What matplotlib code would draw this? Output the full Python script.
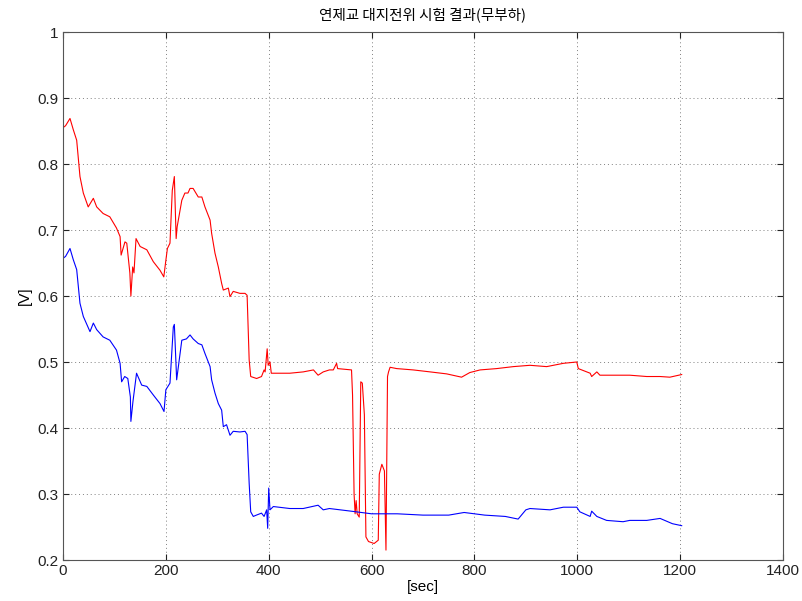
import matplotlib
matplotlib.use("Agg")
import matplotlib.pyplot as plt

# Red series (time [s], voltage [V])
red_t = [0, 5, 13.6, 20, 26.6, 33, 39.5, 49, 59, 65.5, 78, 91, 104, 111, 113, 120.5, 124,
         130, 132, 135.5, 138, 142, 150, 163, 175.6, 188.6, 196, 200, 203, 208, 212.5, 216.5,
         220, 222, 231, 237, 243, 247, 253, 263, 270, 276, 286, 289, 295.5, 302, 308.5, 311.7,
         321.5, 324.7, 331, 344, 354, 358, 362, 365, 376.5, 386, 391, 393, 397, 399, 402.5, 405,
         415.5, 441, 467, 487, 496, 506, 518, 525.6, 532, 534, 561, 563, 566, 568, 570, 572, 576,
         579, 582, 586, 589, 594, 605, 613, 615, 620, 625, 628, 631, 633, 636, 649, 681, 714, 746,
         775, 791, 811, 843, 875.6, 908, 940.5, 973, 999, 1002, 1025, 1028, 1038, 1044, 1070,
         1102, 1135, 1161, 1180, 1203]
red_v = [0.855, 0.858, 0.869, 0.852, 0.836, 0.781, 0.756, 0.735, 0.748, 0.735, 0.725, 0.72,
         0.703, 0.69, 0.662, 0.682, 0.68, 0.635, 0.60, 0.644, 0.635, 0.687, 0.675, 0.67, 0.652,
         0.639, 0.629, 0.654, 0.672, 0.68, 0.76, 0.781, 0.687, 0.705, 0.745, 0.756, 0.756,
         0.763, 0.763, 0.75, 0.75, 0.735, 0.715, 0.695, 0.665, 0.644, 0.619, 0.609, 0.612,
         0.599, 0.607, 0.604, 0.604, 0.601, 0.503, 0.478, 0.475, 0.478, 0.488, 0.485, 0.52,
         0.495, 0.50, 0.483, 0.483, 0.483, 0.485, 0.488, 0.48, 0.485, 0.488, 0.488, 0.498,
         0.49, 0.488, 0.45, 0.30, 0.27, 0.29, 0.27, 0.265, 0.47, 0.468, 0.42, 0.235, 0.228,
         0.225, 0.23, 0.33, 0.345, 0.335, 0.215, 0.478, 0.485, 0.492, 0.49, 0.488, 0.485,
         0.482, 0.477, 0.484, 0.488, 0.49, 0.493, 0.495, 0.493, 0.498, 0.50, 0.49, 0.483,
         0.478, 0.485, 0.48, 0.48, 0.48, 0.478, 0.478, 0.477, 0.481]

# Blue series (time [s], voltage [V])
blue_t = [0, 5, 13.6, 20, 26.6, 33, 39.5, 52.5, 59, 65.5, 78, 91, 104, 111, 114, 120, 126,
          131, 132, 136, 143, 153, 163, 175.6, 188.6, 196.4, 200, 208, 214.5, 216.5, 221, 231,
          240, 247, 253, 263, 270, 276, 286, 289, 295.5, 302, 308.5, 311.7, 318, 324.7, 331,
          344, 354, 358, 362, 365, 370, 376, 386, 391, 396, 398, 400, 402.5, 409, 441, 467, 496,
          506, 518, 560, 600, 650, 700, 750, 780, 820, 860, 885, 900, 908, 947, 973, 999, 1005,
          1025, 1028, 1038, 1057, 1089, 1102, 1135, 1161, 1185, 1203]
blue_v = [0.657, 0.66, 0.672, 0.655, 0.64, 0.589, 0.569, 0.546, 0.559, 0.549, 0.538, 0.533,
          0.518, 0.498, 0.47, 0.478, 0.475, 0.447, 0.41, 0.44, 0.483, 0.465, 0.463, 0.45, 0.437,
          0.425, 0.458, 0.468, 0.553, 0.557, 0.473, 0.533, 0.535, 0.541, 0.535, 0.528, 0.526,
          0.513, 0.493, 0.473, 0.453, 0.437, 0.427, 0.402, 0.405, 0.389, 0.395, 0.394, 0.395,
          0.39, 0.316, 0.273, 0.266, 0.268, 0.271, 0.266, 0.276, 0.248, 0.309, 0.276, 0.281,
          0.278, 0.278, 0.283, 0.276, 0.278, 0.274, 0.27, 0.27, 0.268, 0.268, 0.272, 0.268,
          0.266, 0.262, 0.276, 0.278, 0.276, 0.28, 0.28, 0.273, 0.266, 0.274, 0.266, 0.26,
          0.258, 0.26, 0.26, 0.263, 0.255, 0.252]

title_text = "연제교 대지전위 시험 결과(무부하)"
x_ticks = [0, 200, 400, 600, 800, 1000, 1200, 1400]
y_ticks = [0.2, 0.3, 0.4, 0.5, 0.6, 0.7, 0.8, 0.9, 1]

plt.rcParams['font.family'] = ['Liberation Sans', 'Noto Sans CJK KR', 'DejaVu Sans']

fig = plt.figure(figsize=(8.03, 6.01), dpi=100)
ax = fig.add_axes([63 / 803, 1 - 560 / 601, 720 / 803, 528 / 601])

ax.plot(red_t, red_v, color='#ff0000', lw=0.8)
ax.plot(blue_t, blue_v, color='#0000ff', lw=0.8)

ax.set_xlim(0, 1400)
ax.set_ylim(0.2, 1)
ax.set_xticks(x_ticks)
ax.set_yticks(y_ticks)
ax.set_yticklabels([f"{v:g}" for v in y_ticks])
ax.grid(True, color='#808080', linestyle=(0, (1, 3)), linewidth=0.7)
ax.tick_params(direction='in', length=4, labelsize=11, top=True, right=True,
               colors='#222222', pad=3)
for s in ax.spines.values():
    s.set_color('#555555')
    s.set_linewidth(0.8)

ax.set_title(title_text, fontsize=10.5, family=['Noto Sans CJK KR', 'DejaVu Sans'], pad=9)
ax.set_xlabel("[sec]", fontsize=11, labelpad=1)
ax.set_ylabel("[V]", fontsize=11, labelpad=4)

fig.savefig("out.png", dpi=100, facecolor='white')
